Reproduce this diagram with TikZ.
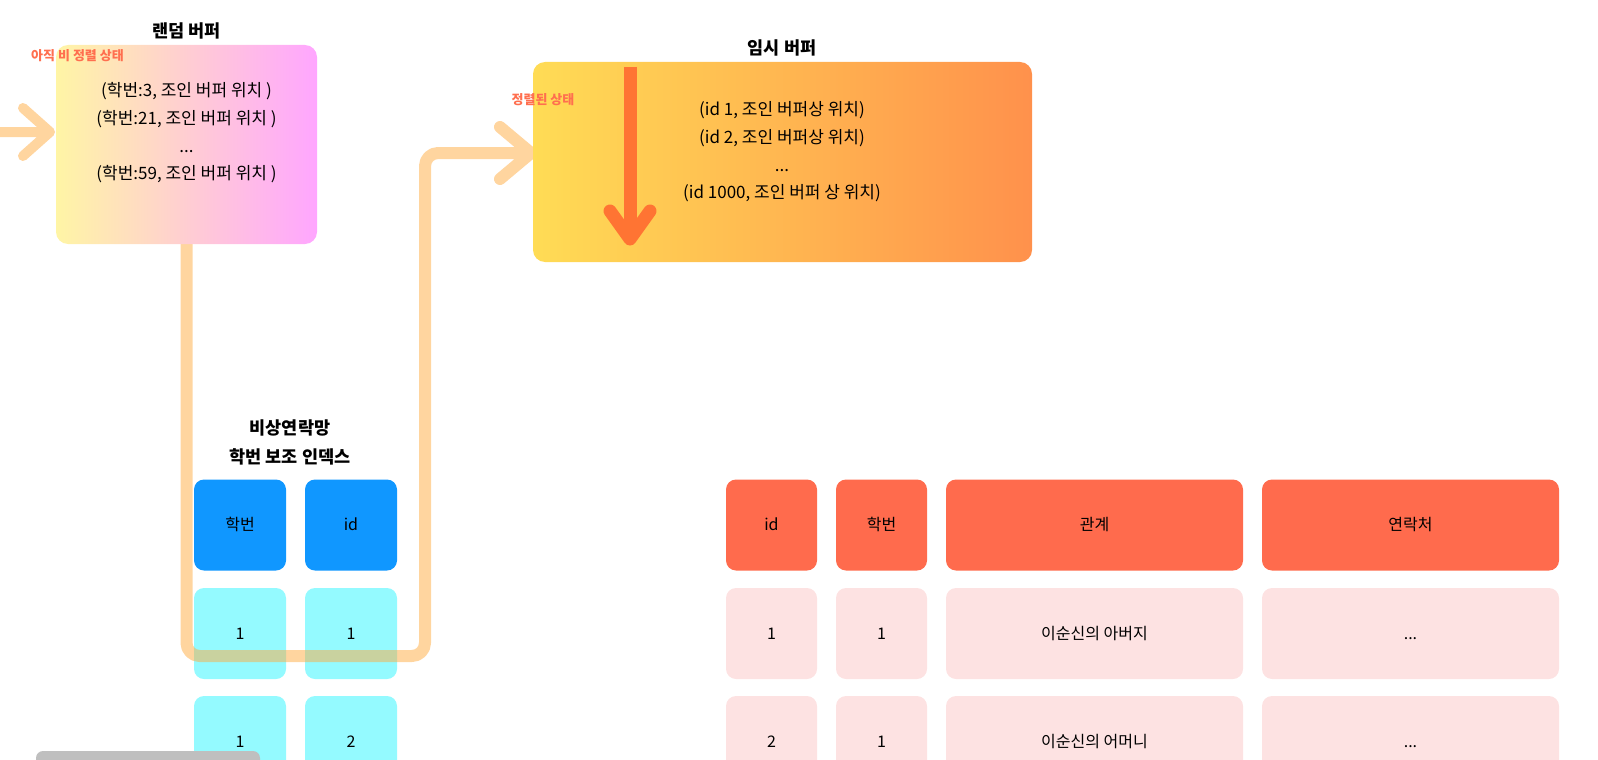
\documentclass[tikz,border=0pt]{standalone}
\usepackage{fontspec}
\setmainfont{Noto Sans CJK KR}
\usetikzlibrary{calc}
\definecolor{bluec}{HTML}{1097FF}
\definecolor{cyanc}{HTML}{94FAFF}
\definecolor{redc}{HTML}{FF6B4D}
\definecolor{pinkc}{HTML}{FDE2E2}
\definecolor{notec}{HTML}{FF6F4F}
\definecolor{downc}{HTML}{FF7433}
\definecolor{rbleft}{HTML}{FFF5A5}
\definecolor{rbright}{HTML}{FFA6FF}
\definecolor{tbleft}{HTML}{FFDC55}
\definecolor{tbright}{HTML}{FF914C}
\definecolor{connc}{HTML}{FFAB40}
\definecolor{barc}{HTML}{BFBFBF}
\begin{document}
\begin{tikzpicture}[x=1pt,y=-1pt,
  title/.style={font=\bfseries\fontsize{17.5}{20}\selectfont, inner sep=0pt},
  bodytext/.style={font=\fontsize{17}{27.6}\selectfont, align=center, inner sep=0pt},
  note/.style={font=\bfseries\fontsize{13}{15}\selectfont, text=notec, inner sep=0pt},
  cellbase/.style={rounded corners=10pt, minimum height=91pt, inner sep=0pt,
    font=\fontsize{16}{19}\selectfont, text height=12pt, text depth=1pt},
  bluecell/.style={cellbase, fill=bluec, minimum width=92pt},
  cyancell/.style={cellbase, fill=cyanc, minimum width=92pt},
  redhead/.style={cellbase, fill=redc},
  pinkcell/.style={cellbase, fill=pinkc},
  conn/.style={draw=connc, draw opacity=0.5, line width=12pt, line cap=round, line join=round},
  downarrow/.style={draw=downc, line width=13pt, line join=round},
]
\useasboundingbox (0,0) rectangle (1598,760);

% index
\node[title] (ixt1) at (290,428) {비상연락망};
\node[title] (ixt2) at (290,457) {학번 보조 인덱스};
\node[bluecell] (ih1) at (240,525) {학번};
\node[bluecell] (ih2) at (351,525) {id};
\node[cyancell] (ia1) at (240,633.5) {1};
\node[cyancell] (ia2) at (351,633.5) {1};
\node[cyancell] (ib1) at (240,741.5) {1};
\node[cyancell] (ib2) at (351,741.5) {2};

% table
\node[redhead, minimum width=91pt] (th1) at (771.5,525) {id};
\node[redhead, minimum width=91pt] (th2) at (881.5,525) {학번};
\node[redhead, minimum width=297pt] (th3) at (1094.5,525) {관계};
\node[redhead, minimum width=297pt] (th4) at (1410.5,525) {연락처};
\node[pinkcell, minimum width=91pt] (ta1) at (771.5,633.5) {1};
\node[pinkcell, minimum width=91pt] (ta2) at (881.5,633.5) {1};
\node[pinkcell, minimum width=297pt] (ta3) at (1094.5,633.5) {이순신의 아버지};
\node[pinkcell, minimum width=297pt] (ta4) at (1410.5,633.5) {...};
\node[pinkcell, minimum width=91pt] (tc1) at (771.5,741.5) {2};
\node[pinkcell, minimum width=91pt] (tc2) at (881.5,741.5) {1};
\node[pinkcell, minimum width=297pt] (tc3) at (1094.5,741.5) {이순신의 어머니};
\node[pinkcell, minimum width=297pt] (tc4) at (1410.5,741.5) {...};

% connectors (drawn below the buffers, above the cells)
\coordinate (src) at (-4,132);
\coordinate (rbin) at (50,132);
\draw[conn, line width=10pt] (src) -- (rbin) ($(rbin)+(-27,-24)$) -- (rbin) -- ($(rbin)+(-27,24)$);
\coordinate (rbout) at (186.5,240);
\coordinate (bend1) at (186.5,656);
\coordinate (bend2) at (425,656);
\coordinate (bend3) at (425,153);
\coordinate (tbin) at (531,153);
\draw[conn] (rbout) [rounded corners=13pt] -- (bend1) -- (bend2) -- (bend3) [sharp corners] -- (tbin)
  ($(tbin)+(-31,-26)$) -- (tbin) -- ($(tbin)+(-31,26)$);

% random buffer
\node[rounded corners=12pt, left color=rbleft, right color=rbright, minimum width=261pt, minimum height=199pt, inner sep=0pt] (rb) at (186.5,144.5) {};
\node[title] (rbtitle) at (186.5,31) {랜덤 버퍼};
\node[note] (rbnote) at (77.5,56) {아직 비 정렬 상태};
\node[bodytext] (rbtext) at (186.5,133) {(학번:3, 조인 버퍼 위치 )\\(학번:21, 조인 버퍼 위치 )\\...\\(학번:59, 조인 버퍼 위치 )};

% temp buffer
\node[rounded corners=12pt, left color=tbleft, right color=tbright, minimum width=499pt, minimum height=200pt, inner sep=0pt] (tb) at (782.5,162) {};
\node[title] (tbtitle) at (782,48) {임시 버퍼};
\node[note] (tbnote) at (543,100) {정렬된 상태};
\node[bodytext] (tbtext) at (782,152) {(id 1, 조인 버퍼상 위치)\\(id 2, 조인 버퍼상 위치)\\...\\(id 1000, 조인 버퍼 상 위치)};
\coordinate (dtop) at (630,67);
\coordinate (dtip) at (630,239);
\draw[downarrow] (dtop) -- (dtip);
\draw[downarrow, line cap=round] ($(dtip)+(-20,-28)$) -- (dtip) -- ($(dtip)+(20,-28)$);

% scrollbar
\fill[barc, rounded corners=7pt] (36,751) rectangle (260,772);
\end{tikzpicture}
\end{document}
